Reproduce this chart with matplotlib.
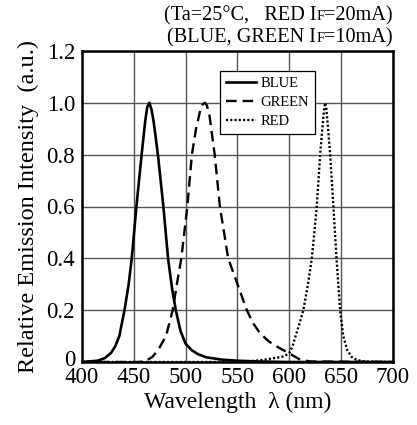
import matplotlib
matplotlib.use("Agg")
import matplotlib.pyplot as plt
import matplotlib.transforms as mtransforms

# spectra
blue_wl = [400, 415, 422, 428, 432, 436, 441, 445, 448, 452.5, 457.5, 461, 463, 465, 467, 469, 471,
           473.5, 478.5, 483, 487, 490.5, 495, 500, 506, 512, 520, 535, 550, 570, 600, 700]
blue_val = [0, 0.005, 0.015, 0.035, 0.06, 0.1, 0.2, 0.3, 0.4, 0.6, 0.8, 0.93, 0.985, 1.0, 0.975,
            0.93, 0.87, 0.79, 0.6, 0.4, 0.28, 0.2, 0.12, 0.07, 0.045, 0.03, 0.018, 0.009, 0.005,
            0.002, 0, 0]

green_wl = [400, 455, 462, 468, 474, 481, 487.5, 491.5, 495.8, 501.6, 506, 510, 514, 516.5, 518.5,
            520.5, 523, 528, 533, 537, 541, 550, 559, 565, 572, 580, 590, 600, 610, 620, 700]
green_val = [0, 0, 0.005, 0.02, 0.05, 0.1, 0.2, 0.3, 0.4, 0.6, 0.8, 0.9, 0.97, 0.995, 1.0,
             0.99, 0.95, 0.8, 0.6, 0.5, 0.4, 0.3, 0.2, 0.15, 0.11, 0.08, 0.055, 0.033, 0.01,
             0.002, 0]

red_wl = [400, 540, 560, 575, 590, 595, 600, 603, 606, 610, 613.5, 618, 621.7, 626.5, 629.7,
          632.5, 633.7, 634.6, 635.6, 637, 639.4, 642.5, 645.5, 649, 652, 656, 660, 665, 672, 700]
red_val = [0, 0, 0.002, 0.008, 0.018, 0.022, 0.035, 0.06, 0.1, 0.15, 0.2, 0.3, 0.4, 0.6, 0.8,
           0.93, 0.98, 1.0, 0.98, 0.92, 0.8, 0.6, 0.4, 0.2, 0.1, 0.045, 0.02, 0.008, 0.002, 0]

x_ticks = [400, 450, 500, 550, 600, 650, 700]
y_ticks = [0, 0.2, 0.4, 0.6, 0.8, 1.0, 1.2]
y_tick_labels = ["0", "0.2", "0.4", "0.6", "0.8", "1.0", "1.2"]

plt.rcParams["font.family"] = ["Liberation Serif", "DejaVu Serif"]

W, H = 417, 425
fig = plt.figure(figsize=(W / 100, H / 100), dpi=100)
ax = fig.add_axes([82 / W, 1 - 362 / H, 311 / W, 311 / H])

ax.plot(blue_wl, blue_val, color="black", lw=1.9, label="BLUE", zorder=3)
ax.plot(green_wl, green_val, color="black", lw=1.7, dashes=(4.5, 2.5), label="GREEN", zorder=3)
ax.plot(red_wl, red_val, color="black", lw=1.7, linestyle=(0, (0.9, 0.9)), label="RED", zorder=3)

ax.set_xlim(400, 700)
ax.set_ylim(0, 1.2)
ax.set_xticks(x_ticks)
ax.set_yticks(y_ticks)
ax.set_yticklabels(y_tick_labels)
ax.tick_params(length=0, labelsize=16.5)
ax.tick_params(axis="x", pad=3.5)
ax.tick_params(axis="y", pad=5)
ax.grid(True, color="#555555", lw=1.0, zorder=0)
ax.set_axisbelow(True)
for sp in ax.spines.values():
    sp.set_linewidth(1.8)

# the "0" sits a little above the bottom spine, as in the datasheet
zero_lbl = ax.get_yticklabels()[0]
zero_lbl.set_transform(zero_lbl.get_transform() +
                       mtransforms.ScaledTranslation(0, 3 / 72, fig.dpi_scale_trans))

ax.set_xlabel("Wavelength  λ (nm)", fontsize=17, labelpad=3)
ax.set_ylabel("Relative Emission Intensity  (a.u.)", fontsize=17.5, labelpad=5)

leg = ax.legend(loc="upper left", bbox_to_anchor=((220 - 82) / 311, (362 - 71) / 311),
                fontsize=10.5, frameon=True, fancybox=False, framealpha=1,
                edgecolor="black", handlelength=2.1, handletextpad=0.3,
                labelspacing=0.4, borderpad=0.4, borderaxespad=0)
leg.get_frame().set_linewidth(0.9)
leg.set_zorder(5)

# condition text with small-size "F" after I
renderer = fig.canvas.get_renderer()


def draw_line(pieces, right_px, base_px):
    widths = []
    for s, fs in pieces:
        t = fig.text(0, 0, s, fontsize=fs, va="baseline", ha="left")
        widths.append(t.get_window_extent(renderer).width)
        t.remove()
    x = right_px - sum(widths)
    for (s, fs), w in zip(pieces, widths):
        fig.text(x / W, 1 - base_px / H, s, fontsize=fs, va="baseline", ha="left")
        x += w


draw_line([("(Ta=25°C,   RED I", 14.6), ("F", 10.5), ("=20mA)", 14.6)], 393, 20.5)
draw_line([("(BLUE, GREEN I", 14.6), ("F", 10.5), ("=10mA)", 14.6)], 393, 42.5)

fig.savefig("out.png", dpi=100)
